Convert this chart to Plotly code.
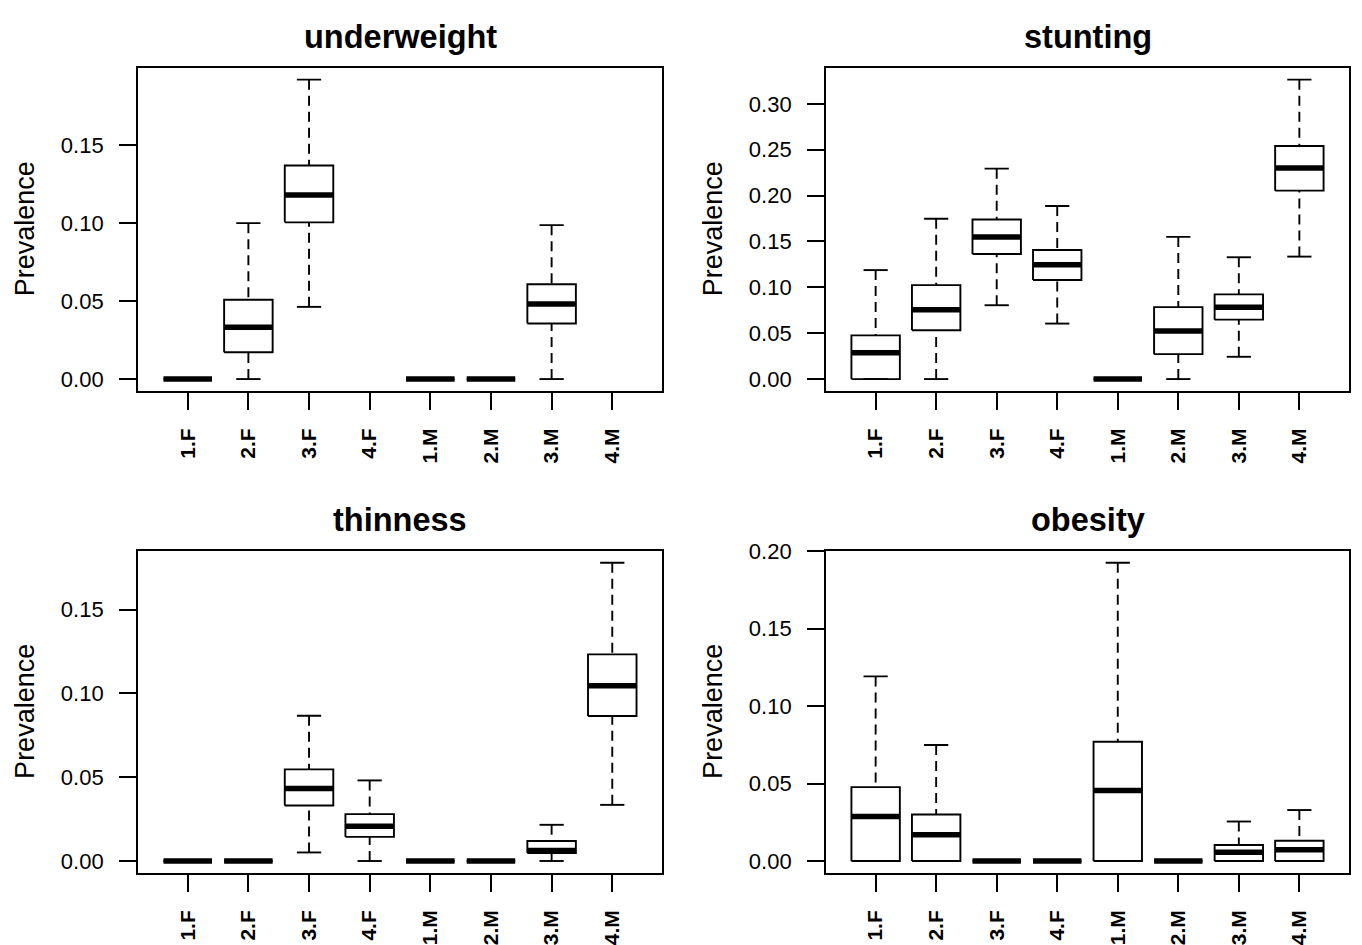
import plotly.graph_objects as go

categories = ["1.F", "2.F", "3.F", "4.F", "1.M", "2.M", "3.M", "4.M"]

# each entry: [lower whisker, Q1, median, Q3, upper whisker]; None = no data
underweight = [
    [0, 0, 0, 0, 0],
    [0, 0.0172, 0.0332, 0.0509, 0.100],
    [0.0463, 0.1005, 0.118, 0.137, 0.192],
    None,
    [0, 0, 0, 0, 0],
    [0, 0, 0, 0, 0],
    [0, 0.0356, 0.0482, 0.0608, 0.0987],
    None,
]
stunting = [
    [0, 0, 0.0286, 0.0476, 0.1188],
    [0, 0.0533, 0.0755, 0.1024, 0.1747],
    [0.0805, 0.1364, 0.155, 0.174, 0.2294],
    [0.0605, 0.108, 0.1245, 0.1407, 0.1886],
    [0, 0, 0, 0, 0],
    [0, 0.0272, 0.0523, 0.0784, 0.155],
    [0.0243, 0.0648, 0.0784, 0.0923, 0.1328],
    [0.1335, 0.2054, 0.2301, 0.2541, 0.3264],
]
thinness = [
    [0, 0, 0, 0, 0],
    [0, 0, 0, 0, 0],
    [0.0051, 0.0331, 0.0432, 0.0547, 0.0867],
    [0, 0.0144, 0.0208, 0.0280, 0.0481],
    [0, 0, 0, 0, 0],
    [0, 0, 0, 0, 0],
    [0, 0.0047, 0.0062, 0.0119, 0.0216],
    [0.0335, 0.0865, 0.1046, 0.1233, 0.178],
]
obesity = [
    [0, 0, 0.0287, 0.0477, 0.1192],
    [0, 0, 0.0169, 0.0300, 0.0749],
    [0, 0, 0, 0, 0],
    [0, 0, 0, 0, 0],
    [0, 0, 0.0456, 0.0770, 0.1926],
    [0, 0, 0, 0, 0],
    [0, 0, 0.0057, 0.0103, 0.0255],
    [0, 0, 0.0072, 0.0131, 0.0329],
]

titles = ["underweight", "stunting", "thinness", "obesity"]
panels = [underweight, stunting, thinness, obesity]
yticks = [
    [0, 0.05, 0.10, 0.15],
    [0, 0.05, 0.10, 0.15, 0.20, 0.25, 0.30],
    [0, 0.05, 0.10, 0.15],
    [0, 0.05, 0.10, 0.15, 0.20],
]

W, H = 1362, 945
FONT = "Liberation Sans, Arial, Helvetica, sans-serif"
# plot-area pixel boxes (left, right, top, bottom)
boxes_px = [
    (138, 662, 56.7, 386),
    (826, 1349, 56.7, 386),
    (138, 662, 548.7, 876.7),
    (826, 1349, 548.7, 876.7),
]

fig = go.Figure()
BOXW = 0.4
STAPLE = 0.2
LW = 1.9

for p, (data, ttl) in enumerate(zip(panels, titles)):
    xa = "x" if p == 0 else f"x{p+1}"
    ya = "y" if p == 0 else f"y{p+1}"
    vals = [v for d in data if d is not None for v in d]
    lo, hi = min(vals), max(vals)
    ext = (hi - lo) * 0.04
    yr = [lo - ext, hi + ext]
    for i, d in enumerate(data):
        if d is None:
            continue
        x = i + 1
        wl, q1, med, q3, wu = d
        common = dict(xaxis=xa, yaxis=ya, mode="lines", showlegend=False, hoverinfo="skip")
        # whiskers (dashed), drawn from fence to box
        fig.add_trace(go.Scatter(x=[x, x, None, x, x], y=[wu, q3, None, wl, q1],
                                 line=dict(color="black", width=LW, dash="10px,6px"), **common))
        # staples
        fig.add_trace(go.Scatter(x=[x - STAPLE, x + STAPLE, None, x - STAPLE, x + STAPLE],
                                 y=[wu, wu, None, wl, wl],
                                 line=dict(color="black", width=LW), **common))
        # box
        fig.add_trace(go.Scatter(x=[x - BOXW, x + BOXW, x + BOXW, x - BOXW, x - BOXW],
                                 y=[q1, q1, q3, q3, q1],
                                 line=dict(color="black", width=LW), **common))
        # median
        fig.add_trace(go.Scatter(x=[x - BOXW, x + BOXW], y=[med, med],
                                 line=dict(color="black", width=5.5), **common))

    l, r, t, b = boxes_px[p]
    xdom = [l / W, r / W]
    ydom = [1 - b / H, 1 - t / H]
    xkey = "xaxis" if p == 0 else f"xaxis{p+1}"
    ykey = "yaxis" if p == 0 else f"yaxis{p+1}"
    fig.update_layout(**{
        xkey: dict(domain=xdom, anchor=ya, range=[0.18, 8.82],
                   tickmode="array", tickvals=list(range(1, 9)), ticktext=categories,
                   tickangle=-90, ticks="outside", ticklen=17, tickwidth=1.9, tickcolor="black",
                   showline=True, linecolor="black", linewidth=1.9, mirror=True,
                   showgrid=False, zeroline=False, ticklabelstandoff=10,
                   tickfont=dict(family=FONT, size=21, color="black", weight="bold")),
        ykey: dict(domain=ydom, anchor=xa, range=yr,
                   tickmode="array", tickvals=yticks[p], tickformat=".2f",
                   ticks="outside", ticklen=17, tickwidth=1.9, tickcolor="black",
                   showline=True, linecolor="black", linewidth=1.9, mirror=True,
                   showgrid=False, zeroline=False, ticklabelstandoff=11,
                   tickfont=dict(family=FONT, size=22, color="black")),
    })
    # panel title
    fig.add_annotation(text=f"<b>{ttl}</b>", xref="paper", yref="paper",
                       x=(l + r) / 2 / W, y=1 - (t - 31) / H, xanchor="center", yanchor="middle",
                       showarrow=False, font=dict(family=FONT, size=32.5, color="black"))
    # y label
    fig.add_annotation(text="Prevalence", xref="paper", yref="paper",
                       x=(l - 113) / W, y=1 - (t + b) / 2 / H, xanchor="center", yanchor="middle",
                       textangle=-90, showarrow=False,
                       font=dict(family=FONT, size=27, color="black"))

fig.update_layout(width=W, height=H, margin=dict(l=0, r=0, t=0, b=0),
                  plot_bgcolor="white", paper_bgcolor="white", showlegend=False)

fig.write_html("out.html", config={"displayModeBar": False},
               post_script="document.body.style.margin='0';document.body.style.padding='0';"
                           "document.documentElement.style.overflow='hidden';"
                           "var d=document.getElementById('{plot_id}');"
                           "d.style.position='absolute';d.style.top='0px';d.style.left='0px';")
